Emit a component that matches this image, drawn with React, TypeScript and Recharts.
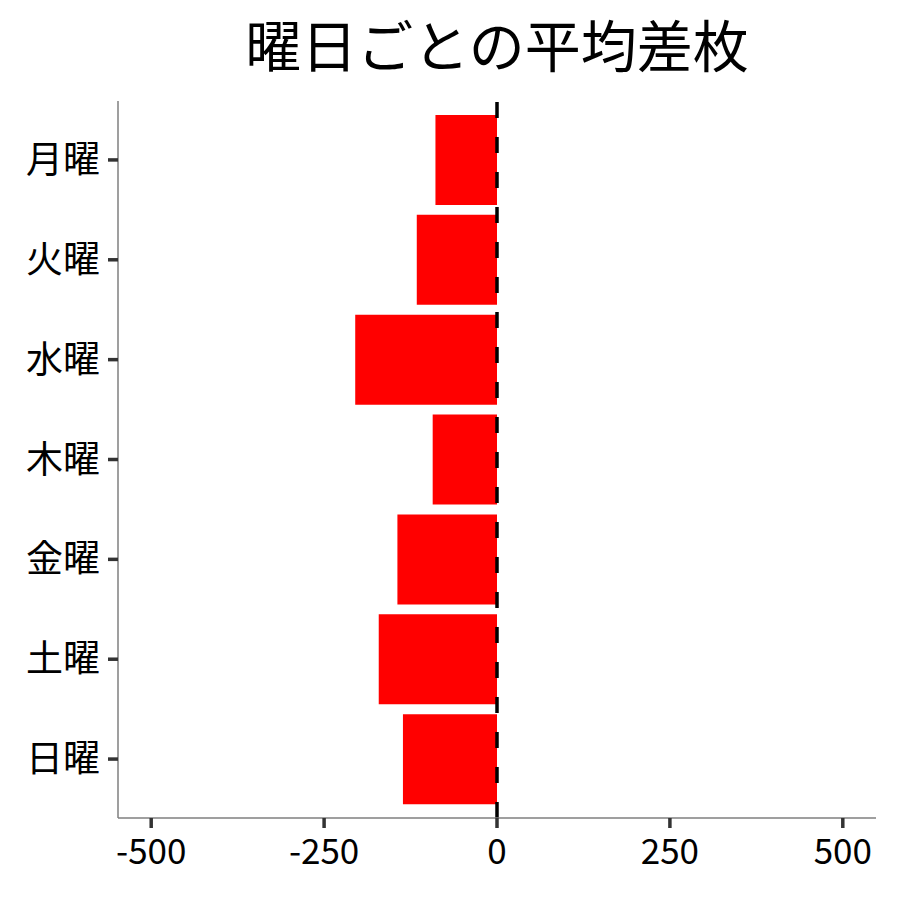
import { Bar, BarChart, ReferenceLine, XAxis, YAxis } from "recharts";

const days = ["月曜", "火曜", "水曜", "木曜", "金曜", "土曜", "日曜"];
const avgDiff = [-89, -116, -205, -93, -144, -171, -136];
const xTicks = [-500, -250, 0, 250, 500];

const FONT = '"Noto Sans CJK JP", "Noto Sans", sans-serif';

export default function App() {
  const data = days.map((day, i) => ({ day, value: avgDiff[i] }));

  return (
    <div
      style={{
        position: "absolute",
        left: 0,
        top: 0,
        width: 900,
        height: 900,
        background: "#fff",
        fontFamily: FONT,
      }}
    >
      <svg
        width={900}
        height={100}
        style={{ position: "absolute", left: 0, top: 0 }}
      >
        <text
          x={497}
          y={67}
          textAnchor="middle"
          fontSize={56}
          fontFamily={FONT}
          fill="#000"
        >
          曜日ごとの平均差枚
        </text>
      </svg>
      <BarChart
        width={900}
        height={900}
        data={data}
        layout="vertical"
        margin={{ top: 101, right: 24, bottom: 0, left: 0 }}
      >
        <XAxis
          type="number"
          domain={[-548, 548]}
          ticks={xTicks}
          allowDataOverflow
          height={82}
          tickSize={10}
          tickMargin={11}
          axisLine={{ stroke: "#7f7f7f", strokeWidth: 1.5 }}
          tickLine={{ stroke: "#333", strokeWidth: 3.5 }}
          tick={{ fill: "#000", fontSize: 35, fontFamily: FONT }}
        />
        <YAxis
          type="category"
          dataKey="day"
          width={118}
          padding={{ top: 9, bottom: 9 }}
          tickSize={10}
          tickMargin={8}
          axisLine={{ stroke: "#7f7f7f", strokeWidth: 1.5 }}
          tickLine={{ stroke: "#333", strokeWidth: 3.5 }}
          tick={{ fill: "#000", fontSize: 37, fontFamily: FONT }}
        />
        <Bar dataKey="value" fill="#ff0000" barSize={90} isAnimationActive={false} />
        <ReferenceLine
          x={0}
          stroke="#000"
          strokeWidth={3.5}
          strokeDasharray="16 19"
        />
      </BarChart>
    </div>
  );
}
